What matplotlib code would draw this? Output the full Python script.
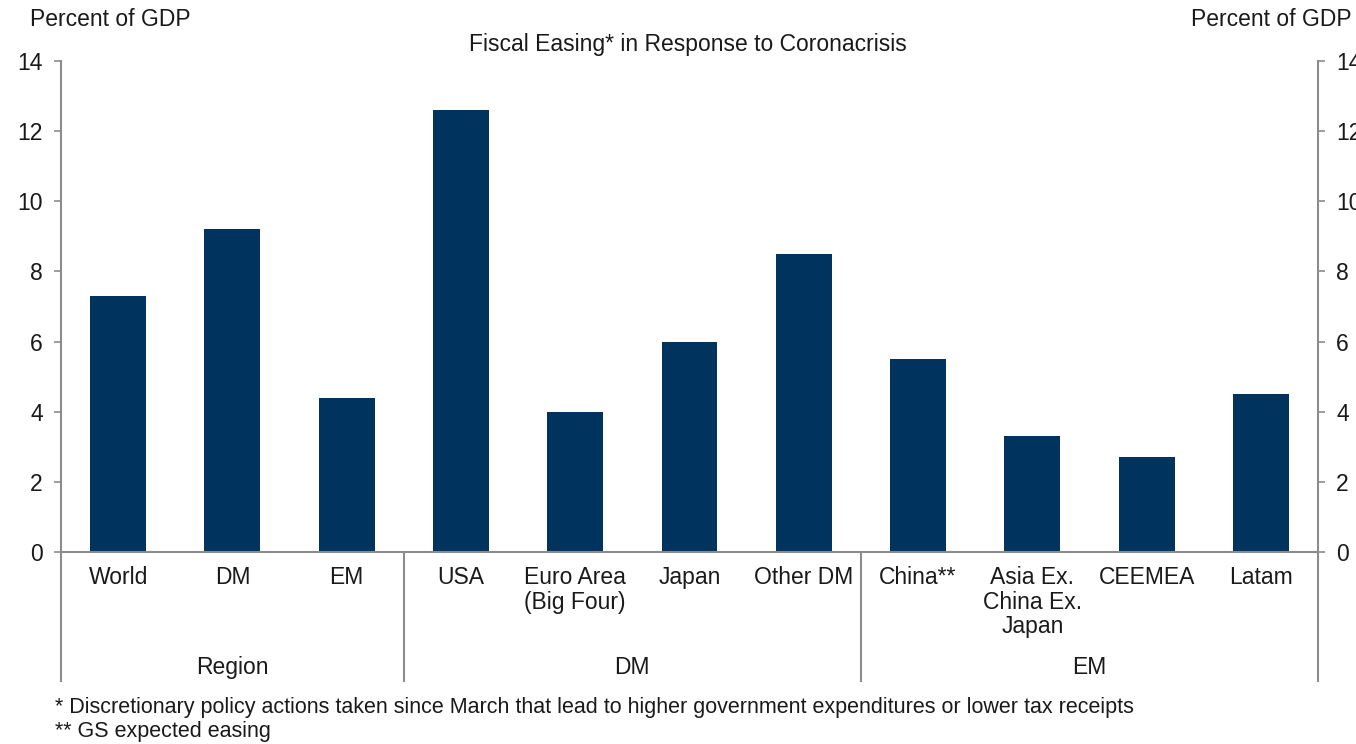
import matplotlib.pyplot as plt
from matplotlib.transforms import blended_transform_factory

plt.rcParams['font.family'] = ['Liberation Sans', 'DejaVu Sans']

categories = ["World", "DM", "EM", "USA", "Euro Area\n(Big Four)", "Japan",
              "Other DM", "China**", "Asia Ex.\nChina Ex.\nJapan", "CEEMEA", "Latam"]
values = [7.3, 9.2, 4.4, 12.6, 4.0, 6.0, 8.5, 5.5, 3.3, 2.7, 4.5]
groups = ["Region", "DM", "EM"]
group_spans = [(0, 2), (3, 6), (7, 10)]
yticks = [0, 2, 4, 6, 8, 10, 12, 14]

bar_color = "#00345f"
axis_color = "#8c8c8c"
text_color = "#1a1a1a"
fs = 16.5

fig = plt.figure(figsize=(13.56, 7.44), dpi=100)
ax = fig.add_axes([61 / 1356, 1 - 552 / 744, (1318 - 61) / 1356, 491 / 744])

x = list(range(len(categories)))
ax.bar(x, values, width=0.49, color=bar_color, zorder=2)

ax.set_xlim(-0.5, len(categories) - 0.5)
ax.set_ylim(0, 14)
ax.set_yticks(yticks)
ax.set_xticks(x)
ax.set_xticklabels(categories, fontsize=fs, color=text_color, linespacing=1.1, va="top")
ax.tick_params(axis="x", length=0, pad=10)
ax.tick_params(axis="y", direction="out", length=5, width=1.2, color=axis_color,
               labelsize=fs, labelcolor=text_color, pad=8)

for side in ["top", "right"]:
    ax.spines[side].set_visible(False)
for side in ["left", "bottom"]:
    ax.spines[side].set_color(axis_color)
    ax.spines[side].set_linewidth(1.5)

ax2 = ax.twinx()
ax2.set_ylim(0, 14)
ax2.set_yticks(yticks)
ax2.tick_params(axis="y", direction="out", length=5, width=1.2, color=axis_color,
                labelsize=fs, labelcolor=text_color, pad=8)
for side in ["top", "left", "bottom"]:
    ax2.spines[side].set_visible(False)
ax2.spines["right"].set_color(axis_color)
ax2.spines["right"].set_linewidth(1.5)

# group separators and extended frame below the axis
trans = blended_transform_factory(ax.transData, ax.transAxes)
low = -0.265
for xs in [-0.5, 2.5, 6.5, len(categories) - 0.5]:
    ax.plot([xs, xs], [low, 0], transform=trans, color=axis_color, lw=1.5,
            clip_on=False, solid_capstyle="butt")

for name, (a, b) in zip(groups, group_spans):
    ax.text((a + b) / 2, -0.236, name, transform=trans, ha="center", va="center",
            fontsize=fs, color=text_color)

fig.text(30 / 1356, 1 - 20 / 744, "Percent of GDP", ha="left", va="center",
         fontsize=fs, color=text_color)
fig.text(1352 / 1356, 1 - 20 / 744, "Percent of GDP", ha="right", va="center",
         fontsize=fs, color=text_color)
fig.text(688 / 1356, 1 - 45 / 744, "Fiscal Easing* in Response to Coronacrisis",
         ha="center", va="center", fontsize=fs, color=text_color)

fig.text(55 / 1356, 1 - 708 / 744,
         "* Discretionary policy actions taken since March that lead to higher government expenditures or lower tax receipts",
         ha="left", va="center", fontsize=15.5, color=text_color)
fig.text(55 / 1356, 1 - 731 / 744, "** GS expected easing",
         ha="left", va="center", fontsize=15.5, color=text_color)

fig.savefig("out.png", dpi=100)
